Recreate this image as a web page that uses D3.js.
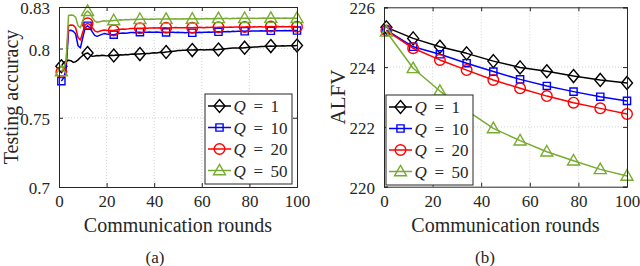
<!DOCTYPE html>
<html><head><meta charset="utf-8">
<script src="https://cdn.jsdelivr.net/npm/d3@7"></script>
<style>
html,body{margin:0;padding:0;background:#fff;}
text{font-family:"Liberation Serif","Times New Roman",serif;fill:#262626;}
</style></head>
<body><svg id="c" width="640" height="266"></svg>
<script>
// ---------- data ----------
const seriesNames = ["1", "10", "20", "50"];
const seriesColors = ["#000000", "#0000ff", "#ff0000", "#77ac30"];
const seriesMarkers = ["diamond", "square", "circle", "triangle"];
const markerRounds = [1, 12, 23, 34, 45, 56, 67, 78, 89, 100];
const xTicks = [0, 20, 40, 60, 80, 100];
const accTicks = [0.7, 0.75, 0.8, 0.83];
const accTickLabels = ["0.7", "0.75", "0.8", "0.83"];
const alfvTicks = [220, 222, 224, 226];
const alfvTickLabels = ["220", "222", "224", "226"];

const accQ1 = [0.7872,0.7900,0.7908,0.7915,0.7912,0.7900,0.7905,0.7918,0.7935,0.7950,
 0.7962,0.7968,0.7955,0.7944,0.7946,0.7950,0.7948,0.7952,0.7950,0.7947,
 0.7950,0.7952,0.7950,0.7953,0.7951,0.7955,0.7954,0.7957,0.7955,0.7958,
 0.7960,0.7958,0.7961,0.7960,0.7963,0.7962,0.7965,0.7964,0.7967,0.7969,
 0.7968,0.7971,0.7973,0.7972,0.7975,0.7976,0.7979,0.7981,0.7983,0.7985,
 0.7986,0.7988,0.7987,0.7989,0.7990,0.7989,0.7991,0.7990,0.7992,0.7991,
 0.7990,0.7992,0.7991,0.7993,0.7992,0.7991,0.7993,0.7995,0.7997,0.7999,
 0.8001,0.8002,0.8003,0.8004,0.8003,0.8005,0.8004,0.8006,0.8008,0.8009,
 0.8010,0.8011,0.8012,0.8013,0.8014,0.8015,0.8016,0.8017,0.8018,0.8017,
 0.8018,0.8019,0.8018,0.8020,0.8019,0.8020,0.8021,0.8020,0.8021,0.8022];
const accQ10 = [0.7765,0.7790,0.7850,0.8128,0.8132,0.8125,0.8105,0.8020,0.8005,0.8080,
 0.8150,0.8165,0.8150,0.8120,0.8095,0.8088,0.8095,0.8102,0.8108,0.8105,
 0.8103,0.8101,0.8100,0.8104,0.8108,0.8110,0.8112,0.8110,0.8113,0.8115,
 0.8116,0.8114,0.8117,0.8118,0.8116,0.8118,0.8117,0.8119,0.8118,0.8117,
 0.8119,0.8118,0.8116,0.8118,0.8117,0.8116,0.8118,0.8117,0.8115,0.8117,
 0.8116,0.8115,0.8114,0.8116,0.8115,0.8114,0.8116,0.8115,0.8117,0.8116,
 0.8118,0.8117,0.8119,0.8118,0.8120,0.8119,0.8121,0.8120,0.8122,0.8121,
 0.8123,0.8122,0.8124,0.8123,0.8125,0.8124,0.8126,0.8125,0.8126,0.8125,
 0.8127,0.8126,0.8127,0.8126,0.8128,0.8127,0.8128,0.8127,0.8128,0.8129,
 0.8128,0.8129,0.8128,0.8129,0.8130,0.8129,0.8130,0.8129,0.8130,0.8130];
const accQ20 = [0.7830,0.7845,0.7900,0.8165,0.8170,0.8168,0.8150,0.8080,0.8062,0.8120,
 0.8172,0.8182,0.8172,0.8150,0.8128,0.8120,0.8125,0.8130,0.8134,0.8132,
 0.8131,0.8130,0.8131,0.8134,0.8137,0.8139,0.8141,0.8140,0.8142,0.8144,
 0.8145,0.8144,0.8146,0.8147,0.8146,0.8148,0.8147,0.8149,0.8148,0.8150,
 0.8149,0.8150,0.8149,0.8151,0.8150,0.8149,0.8151,0.8150,0.8152,0.8151,
 0.8150,0.8151,0.8150,0.8152,0.8151,0.8150,0.8152,0.8151,0.8153,0.8152,
 0.8151,0.8153,0.8152,0.8154,0.8153,0.8152,0.8154,0.8153,0.8155,0.8154,
 0.8153,0.8155,0.8154,0.8156,0.8155,0.8154,0.8156,0.8155,0.8157,0.8156,
 0.8155,0.8157,0.8156,0.8158,0.8157,0.8156,0.8158,0.8157,0.8159,0.8158,
 0.8157,0.8159,0.8158,0.8159,0.8158,0.8157,0.8159,0.8158,0.8159,0.8158];
const accQ50 = [0.7835,0.7860,0.7910,0.8238,0.8242,0.8240,0.8225,0.8165,0.8150,0.8200,
 0.8255,0.8270,0.8255,0.8225,0.8200,0.8190,0.8193,0.8197,0.8200,0.8198,
 0.8199,0.8201,0.8203,0.8205,0.8206,0.8208,0.8207,0.8209,0.8208,0.8210,
 0.8209,0.8211,0.8210,0.8212,0.8211,0.8213,0.8212,0.8211,0.8213,0.8212,
 0.8214,0.8213,0.8212,0.8214,0.8213,0.8215,0.8214,0.8213,0.8215,0.8214,
 0.8213,0.8215,0.8214,0.8216,0.8215,0.8214,0.8216,0.8215,0.8214,0.8216,
 0.8215,0.8217,0.8216,0.8215,0.8217,0.8216,0.8218,0.8217,0.8216,0.8218,
 0.8217,0.8216,0.8218,0.8217,0.8219,0.8218,0.8217,0.8219,0.8218,0.8217,
 0.8219,0.8218,0.8217,0.8219,0.8218,0.8220,0.8219,0.8218,0.8220,0.8219,
 0.8218,0.8220,0.8219,0.8218,0.8220,0.8219,0.8218,0.8220,0.8219,0.8219];

const alfvRounds = [1, 12, 23, 34, 45, 56, 67, 78, 89, 100];
const alfvQ1  = [225.33, 224.96, 224.68, 224.46, 224.20, 223.99, 223.86, 223.70, 223.57, 223.47];
const alfvQ10 = [225.24, 224.68, 224.43, 224.13, 223.85, 223.59, 223.37, 223.18, 223.01, 222.87];
const alfvQ20 = [225.22, 224.63, 224.24, 223.90, 223.57, 223.29, 223.03, 222.81, 222.62, 222.43];
const alfvQ50 = [225.18, 223.96, 223.20, 222.55, 221.95, 221.54, 221.17, 220.87, 220.58, 220.36];

// ---------- drawing ----------
const svg = d3.select("#c");

function markerPath(type) {
  if (type === "diamond") return "M0,-6.5L5.5,0L0,6.5L-5.5,0Z";
  if (type === "square") return "M-3.6,-3.6H3.6V3.6H-3.6Z";
  if (type === "circle") return "M5.3,0A5.3,5.3 0 1,1 -5.3,0A5.3,5.3 0 1,1 5.3,0Z";
  return "M0,-6.2L6,4.3L-6,4.3Z";
}

function panel(cfg) {
  const g = svg.append("g");
  const x = d3.scaleLinear().domain([0, 100]).range([cfg.x0, cfg.x1]);
  const y = d3.scaleLinear().domain(cfg.ydom).range([cfg.y1, cfg.y0]);

  // grid
  g.append("g").selectAll("line").data(xTicks.slice(1, -1)).join("line")
    .attr("x1", d => x(d)).attr("x2", d => x(d)).attr("y1", cfg.y0).attr("y2", cfg.y1)
    .attr("stroke", "#c8c8c8").attr("stroke-width", 0.8).attr("stroke-dasharray", "1,2");
  g.append("g").selectAll("line").data(cfg.yticks.slice(1, -1)).join("line")
    .attr("y1", d => y(d)).attr("y2", d => y(d)).attr("x1", cfg.x0).attr("x2", cfg.x1)
    .attr("stroke", "#c8c8c8").attr("stroke-width", 0.8).attr("stroke-dasharray", "1,2");

  // series
  cfg.series.forEach((s, i) => {
    const pts = s.rounds.map((r, k) => [r, s.values[k]]);
    const line = d3.line().x(d => x(d[0])).y(d => y(d[1]));
    g.append("path").attr("d", line(pts)).attr("fill", "none")
      .attr("stroke", seriesColors[i]).attr("stroke-width", 1.5).attr("stroke-linejoin", "round");
    const mk = pts.filter(d => markerRounds.includes(d[0]));
    g.append("g").selectAll("path").data(mk).join("path")
      .attr("d", markerPath(seriesMarkers[i]))
      .attr("transform", d => `translate(${x(d[0])},${y(d[1])})`)
      .attr("fill", "none").attr("stroke", seriesColors[i]).attr("stroke-width", 1.4);
  });

  // axes: bottom/left with labels, top/right mirrored
  const ax = g.append("g");
  const bottom = d3.axisBottom(x).tickValues(xTicks).tickSize(-4).tickPadding(8).tickFormat(d3.format("d"));
  const top = d3.axisTop(x).tickValues(xTicks).tickSize(-4).tickFormat("");
  const left = d3.axisLeft(y).tickValues(cfg.yticks).tickSize(-4).tickPadding(9).tickFormat((d, k) => cfg.ylabels[k]);
  const right = d3.axisRight(y).tickValues(cfg.yticks).tickSize(-4).tickFormat("");
  ax.append("g").attr("transform", `translate(0,${cfg.y1})`).call(bottom);
  ax.append("g").attr("transform", `translate(0,${cfg.y0})`).call(top);
  const la = ax.append("g").attr("transform", `translate(${cfg.x0},0)`).call(left);
  ax.append("g").attr("transform", `translate(${cfg.x1},0)`).call(right);
  ax.selectAll(".domain").attr("stroke", "#262626").attr("stroke-width", 1);
  ax.selectAll(".tick line").attr("stroke", "#262626");
  ax.selectAll("text").attr("font-family", "Liberation Serif").attr("font-size", 17).attr("fill", "#262626");
  la.selectAll(".tick text").attr("dy", "0.38em");

  // axis labels
  g.append("text").attr("x", (cfg.x0 + cfg.x1) / 2).attr("y", 231.5).attr("text-anchor", "middle")
    .attr("font-size", 20).text("Communication rounds");
  g.append("text").attr("transform", `translate(${cfg.ylabX},${(cfg.y0 + cfg.y1) / 2}) rotate(-90)`)
    .attr("text-anchor", "middle").attr("font-size", cfg.ylabSize).text(cfg.ylabel);
  g.append("text").attr("x", cfg.capX).attr("y", 262.5).attr("text-anchor", "middle")
    .attr("font-size", 17).text(cfg.caption);

  // legend
  const L = g.append("g").attr("transform", `translate(${cfg.legX},${cfg.legY})`);
  L.append("rect").attr("width", 87).attr("height", 90).attr("fill", "#fff")
    .attr("stroke", "#262626").attr("stroke-width", 1);
  const rowY = [12, 33.5, 55, 76.5];
  seriesNames.forEach((n, i) => {
    const r = L.append("g").attr("transform", `translate(0,${rowY[i]})`);
    r.append("line").attr("x1", 3).attr("x2", 26).attr("stroke", seriesColors[i]).attr("stroke-width", 1.5);
    r.append("path").attr("d", markerPath(seriesMarkers[i])).attr("transform", "translate(14.5,0)")
      .attr("fill", "none").attr("stroke", seriesColors[i]).attr("stroke-width", 1.4);
    r.append("text").attr("x", 28.5).attr("y", 6).attr("font-size", 17).attr("font-style", "italic").text("Q");
    r.append("text").attr("x", 48.5).attr("y", 6).attr("font-size", 17).text("=");
    r.append("text").attr("x", 65.5).attr("y", 6).attr("font-size", 17).text(n);
  });
}

panel({
  id: "a", x0: 59, x1: 297, y0: 7, y1: 187, ydom: [0.7, 0.83],
  yticks: accTicks, ylabels: accTickLabels, ylabel: "Testing accuracy", ylabX: 18, ylabSize: 20,
  caption: "(a)", capX: 155, legX: 205, legY: 94,
  series: [
    {rounds: accQ1.map((v, k) => k + 1), values: accQ1},
    {rounds: accQ10.map((v, k) => k + 1), values: accQ10},
    {rounds: accQ20.map((v, k) => k + 1), values: accQ20},
    {rounds: accQ50.map((v, k) => k + 1), values: accQ50}
  ]
});
panel({
  id: "b", x0: 384, x1: 627, y0: 7.3, y1: 186.7, ydom: [220, 226],
  yticks: alfvTicks, ylabels: alfvTickLabels, ylabel: "ALFV", ylabX: 345, ylabSize: 21,
  caption: "(b)", capX: 485, legX: 386, legY: 95,
  series: [
    {rounds: alfvRounds, values: alfvQ1},
    {rounds: alfvRounds, values: alfvQ10},
    {rounds: alfvRounds, values: alfvQ20},
    {rounds: alfvRounds, values: alfvQ50}
  ]
});
</script></body></html>
